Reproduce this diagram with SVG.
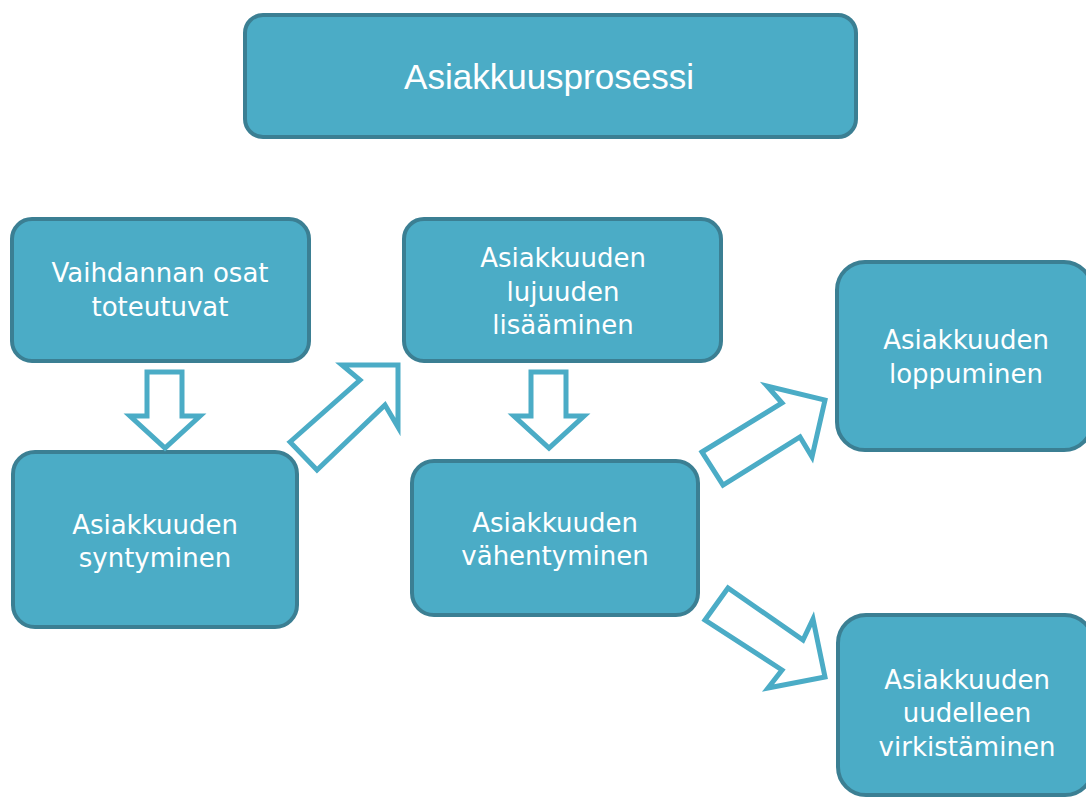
<svg xmlns="http://www.w3.org/2000/svg" width="1086" height="805" viewBox="0 0 1086 805">
<style>
.box{fill:#4BACC6;stroke:#3B7F93;stroke-width:4}
.t{font-family:"DejaVu Sans",Verdana,sans-serif;font-size:26px;fill:#FFFFFF;text-anchor:middle}
.title{font-family:"Liberation Sans",Arial,sans-serif;font-size:35px;fill:#FFFFFF;text-anchor:middle}
.arr{fill:#FFFFFF;stroke:#4BACC6;stroke-width:5;stroke-linejoin:miter}
</style>
<rect width="1086" height="805" fill="#FFFFFF"/>
<g id="title">
<rect class="box" x="245" y="15" width="611" height="122" rx="18"/>
<text class="title" x="549" y="89">Asiakkuusprosessi</text>
</g>
<g id="vaihdannan">
<rect class="box" x="12" y="219" width="297" height="142" rx="20"/>
<text class="t" x="160" y="282">Vaihdannan osat</text>
<text class="t" x="160" y="316">toteutuvat</text>
</g>
<g id="syntyminen">
<rect class="box" x="13" y="452" width="284" height="175" rx="22"/>
<text class="t" x="155" y="534">Asiakkuuden</text>
<text class="t" x="155" y="567">syntyminen</text>
</g>
<g id="lujuuden">
<rect class="box" x="404" y="219" width="317" height="142" rx="20"/>
<text class="t" x="563" y="267">Asiakkuuden</text>
<text class="t" x="563" y="301">lujuuden</text>
<text class="t" x="563" y="334">lisääminen</text>
</g>
<g id="vahentyminen">
<rect class="box" x="412" y="461" width="286" height="154" rx="22"/>
<text class="t" x="555" y="532">Asiakkuuden</text>
<text class="t" x="555" y="565">vähentyminen</text>
</g>
<g id="loppuminen">
<rect class="box" x="837" y="262" width="255" height="188" rx="28"/>
<text class="t" x="966" y="349">Asiakkuuden</text>
<text class="t" x="966" y="383">loppuminen</text>
</g>
<g id="virkistaminen">
<rect class="box" x="838" y="615" width="255" height="180" rx="28"/>
<text class="t" x="967" y="689">Asiakkuuden</text>
<text class="t" x="967" y="722">uudelleen</text>
<text class="t" x="967" y="756">virkistäminen</text>
</g>
<g id="connectors">
<polygon class="arr" points="147,372 182,372 182,416 200,416 165,448 130,416 147,416"/>
<polygon class="arr" points="531,372 566,372 566,416 584,416 549,448 514,416 531,416"/>
<polygon class="arr" points="290,442 360,380 342,365 398,365 398,427 385,405 317,470"/>
<polygon class="arr" points="702,452 782,403 767,386 825,400 812,457 800,437 723,485"/>
<polygon class="arr" points="705,620 728,588 803,640 813,619 825,677 768,688 782,670"/>
</g>
</svg>
